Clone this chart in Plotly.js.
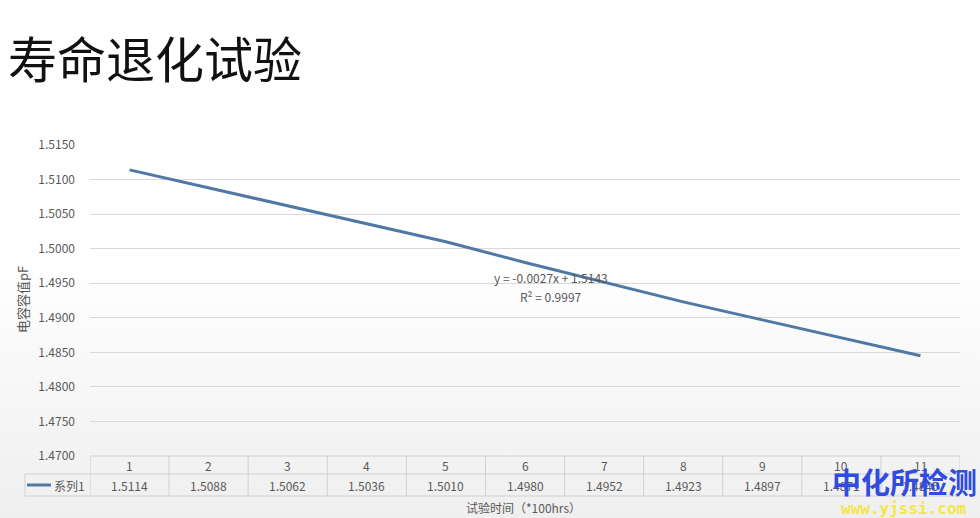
<!DOCTYPE html>
<html><head><meta charset="utf-8">
<script src="https://cdn.plot.ly/plotly-3.0.1.min.js"></script>
<style>
html,body{margin:0;padding:0;}
body{width:980px;height:518px;background:linear-gradient(180deg,#ffffff 0%,#ffffff 50%,#efefef 100%);}
#chart{width:980px;height:518px;}
</style></head>
<body><div id="chart"></div>
<script>
const chartTitle = "寿命退化试验";
const seriesName = "系列1";
const categories = [1,2,3,4,5,6,7,8,9,10,11];
const capValues = [1.5114,1.5088,1.5062,1.5036,1.5010,1.4980,1.4952,1.4923,1.4897,1.4871,1.4845];
const valueLabels = ["1.5114","1.5088","1.5062","1.5036","1.5010","1.4980","1.4952","1.4923","1.4897","1.4871","1.4845"];
const trendEq = "y = -0.0027x + 1.5143";
const trendR2 = "R² = 0.9997";
const yTitle = "电容容值pF";
const xTitle = "试验时间（*100hrs）";
const watermark = "中化所检测";
const watermarkUrl = "www.yjssi.com";

const FONT = "Noto Sans CJK SC, Noto Sans, sans-serif";
const GREY = "#595959";
const LINE = "#5078a4";
const BORDER = "#d0d0d0";

const W = 870, H = 311;
const yRow1 = (456-474)/H, yRow2 = (456-496)/H;
const cRow1 = (456-465)/H, cRow2 = (456-485)/H;
const xLeg = (25-90)/W;

const shapes = [];
const annotations = [];
shapes.push({type:'line',xref:'paper',yref:'paper',x0:0,x1:1,y0:0,y1:0,line:{color:BORDER,width:1}});
shapes.push({type:'line',xref:'paper',yref:'paper',x0:xLeg,x1:1,y0:yRow1,y1:yRow1,line:{color:BORDER,width:1}});
shapes.push({type:'line',xref:'paper',yref:'paper',x0:xLeg,x1:1,y0:yRow2,y1:yRow2,line:{color:BORDER,width:1}});
shapes.push({type:'line',xref:'paper',yref:'paper',x0:xLeg,x1:xLeg,y0:yRow1,y1:yRow2,line:{color:BORDER,width:1}});
categories.forEach((c,i)=>{
  shapes.push({type:'line',xref:'x',yref:'paper',x0:c-0.5,x1:c-0.5,y0:0,y1:yRow2,line:{color:BORDER,width:1}});
});
shapes.push({type:'line',xref:'x',yref:'paper',x0:categories.length+0.5,x1:categories.length+0.5,y0:0,y1:yRow2,line:{color:BORDER,width:1}});
shapes.push({type:'line',xref:'paper',yref:'paper',x0:(27-90)/W,x1:(51-90)/W,y0:cRow2,y1:cRow2,line:{color:LINE,width:3}});

categories.forEach((c,i)=>{
  annotations.push({xref:'x',yref:'paper',x:c,y:cRow1,text:String(c),showarrow:false,font:{family:FONT,size:12,color:GREY},xanchor:'center',yanchor:'middle'});
  annotations.push({xref:'x',yref:'paper',x:c,y:cRow2,text:valueLabels[i],showarrow:false,font:{family:FONT,size:12,color:GREY},xanchor:'center',yanchor:'middle'});
});
annotations.push({xref:'paper',yref:'paper',x:(52-90)/W,y:cRow2,text:seriesName,showarrow:false,font:{family:FONT,size:12,color:GREY},xanchor:'left',yanchor:'middle'});
annotations.push({xref:'paper',yref:'paper',x:(551-90)/W,y:(456-277)/H,text:trendEq,showarrow:false,font:{family:FONT,size:12,color:GREY},xanchor:'center',yanchor:'middle'});
annotations.push({xref:'paper',yref:'paper',x:(551-90)/W,y:(456-296)/H,text:trendR2,showarrow:false,font:{family:FONT,size:12,color:GREY},xanchor:'center',yanchor:'middle'});
annotations.push({xref:'paper',yref:'paper',x:(523-90)/W,y:(456-507)/H,text:xTitle,showarrow:false,font:{family:FONT,size:12,color:GREY},xanchor:'center',yanchor:'middle'});
annotations.push({xref:'paper',yref:'paper',x:(22-90)/W,y:(456-300)/H,text:yTitle,textangle:-90,showarrow:false,font:{family:FONT,size:13,color:GREY},xanchor:'center',yanchor:'middle'});
// watermark overlay (as in the reference)
annotations.push({xref:'paper',yref:'paper',x:(904-90)/W,y:(456-481)/H,text:'<b>'+watermark+'</b>',showarrow:false,font:{family:FONT,size:29,color:'#2f4be0'},xanchor:'center',yanchor:'middle'});
annotations.push({xref:'paper',yref:'paper',x:(904-90)/W,y:(456-508)/H,text:'<b>'+watermarkUrl+'</b>',showarrow:false,font:{family:'DejaVu Sans Mono, monospace',size:16,color:'#f3e64a'},xanchor:'center',yanchor:'middle'});

const data = [{
  type:'scatter',mode:'lines',x:categories,y:capValues,name:seriesName,
  line:{color:LINE,width:3},hoverinfo:'skip'
}];

const layout = {
  width:980,height:518,
  paper_bgcolor:'rgba(0,0,0,0)',plot_bgcolor:'rgba(0,0,0,0)',
  margin:{l:90,r:20,t:145,b:62},
  showlegend:false,
  title:{text:chartTitle,font:{family:FONT,size:49,color:'#111111'},xref:'container',yref:'container',x:8/980,xanchor:'left',y:1-61/518,yanchor:'middle'},
  xaxis:{range:[0.5,11.5],showgrid:false,zeroline:false,showticklabels:false,ticks:'',showline:false,fixedrange:true},
  yaxis:{range:[1.4700,1.5150],dtick:0.005,tick0:1.47,tickformat:'.4f',showgrid:true,gridcolor:'#d9d9d9',gridwidth:1,zeroline:false,showline:false,ticks:'',
    tickfont:{family:FONT,size:12,color:GREY},ticklabelstandoff:14},
  shapes:shapes,annotations:annotations
};
Plotly.newPlot('chart',data,layout,{staticPlot:true,displayModeBar:false});
</script></body></html>
